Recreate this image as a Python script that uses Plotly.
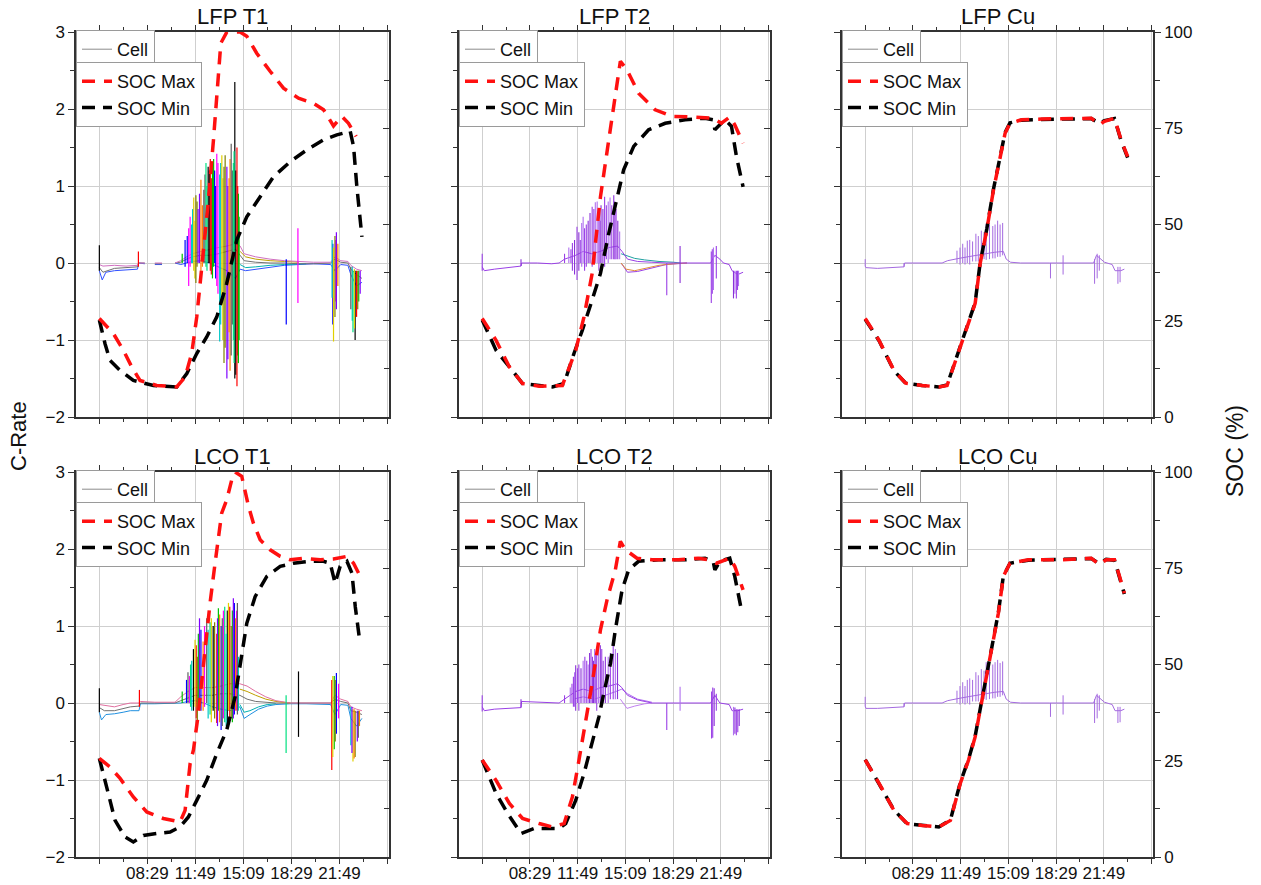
import plotly.graph_objects as go

FONT = "Liberation Sans, Arial, sans-serif"

# ---------------- time axis (hours of day) ----------------
X_TICK_HOURS = [5.15, 8.483, 11.817, 15.15, 18.483, 21.817, 25.15]
X_TICK_TEXT = ["", "08:29", "11:49", "15:09", "18:29", "21:49", ""]
X_MINOR_HOURS = [3.483, 6.817, 10.15, 13.483, 16.817, 20.15, 23.483]

# ---------------- SOC curves (hour, SOC %) ----------------
LFP_T1_SOC_MAX = [(5.15,25.6),(6.12,21.7),(6.82,17.3),(7.40,13.0),(7.97,9.5),(9.13,8.2),(10.52,7.8),(11.10,10.4),(11.56,16.5),(11.91,26.0),(12.26,39.0),(12.72,56.4),(13.07,72.0),(13.30,84.1),(13.58,97.1),(14.0,100),(14.92,100),(15.38,98.9),(16.07,94.5),(17.0,89.8),(17.93,85.4),(18.97,82.8),(20.01,81.5),(20.71,79.8),(21.4,75.6),(21.98,78.1),(22.44,76.3),(22.97,72.9)]
LFP_T1_SOC_MIN = [(5.15,25.2),(5.54,19.1),(5.89,14.7),(6.59,12.1),(7.51,9.5),(8.9,8.2),(10.52,7.8),(11.22,11.3),(11.91,16.5),(12.6,20.8),(13.3,26.0),(13.99,34.7),(14.69,46.0),(15.38,52.0),(16.31,57.2),(17.23,62.4),(18.39,66.3),(19.55,69.4),(20.71,72.0),(21.63,73.3),(22.56,74.2),(22.79,70.3),(23.02,59.8),(23.25,52.0),(23.37,46.8)]

LFP_T2_SOC_MAX = [(5.15,25.6),(6.12,19.9),(7.05,13.0),(7.97,8.7),(9.13,8.0),(10.75,8.2),(11.68,17.3),(12.26,26.0),(12.83,37.3),(13.41,57.2),(13.99,72.0),(14.45,83.3),(14.80,92.4),(15.26,90.2),(16.07,84.1),(17.23,79.8),(18.39,78.1),(20.01,77.9),(21.28,77.6),(21.86,76.3),(22.44,77.9),(22.79,75.9),(23.37,71.1)]
LFP_T2_SOC_MIN = [(5.15,25.2),(6.12,17.3),(7.05,13.0),(7.97,8.7),(10.06,7.8),(10.87,8.7),(11.56,16.5),(12.14,22.5),(12.83,30.4),(13.41,37.3),(13.99,47.7),(14.57,57.2),(15.03,64.2),(15.73,70.3),(16.77,74.6),(17.93,76.3),(19.32,77.2),(20.71,77.6),(21.28,77.2),(21.4,74.6),(21.75,75.9),(22.1,77.2),(22.56,75.5),(22.91,67.6),(23.37,59.8)]

LFP_CU_SOC_MAX = [(5.15,25.6),(6.12,19.9),(7.16,12.1),(7.97,8.8),(9.13,8.2),(10.29,7.8),(10.87,8.2),(11.56,15.6),(12.14,22.5),(12.83,29.5),(13.18,39.9),(13.64,48.6),(14.11,59.0),(14.57,67.6),(14.92,73.7),(15.26,76.3),(16.07,77.2),(17.46,77.4),(19.32,77.4),(20.94,77.6),(21.51,75.9),(21.86,76.8),(22.56,77.6),(23.02,72.0),(23.48,67.6)]
LFP_CU_SOC_MIN = [(5.15,25.4),(6.12,19.8),(7.16,12.0),(7.97,8.8),(9.13,8.2),(10.29,7.8),(10.87,8.3),(11.56,15.8),(12.14,22.4),(12.83,29.7),(13.18,40.1),(13.64,48.8),(14.11,59.2),(14.57,67.8),(14.92,73.9),(15.26,76.4),(16.07,77.1),(17.46,77.3),(19.32,77.4),(20.94,77.5),(21.51,76.3),(21.86,77.0),(22.56,77.5),(23.02,71.8),(23.48,67.4)]

LCO_T1_SOC_MAX = [(5.15,25.6),(5.89,23.4),(6.59,20.4),(7.51,15.6),(8.44,11.7),(9.59,10.0),(10.75,9.1),(11.1,12.1),(11.45,24.3),(11.68,27.8),(12.02,37.3),(12.37,50.3),(12.83,65.9),(13.18,76.3),(13.41,83.3),(13.64,89.3),(13.99,92.8),(14.34,98.0),(14.57,100),(15.03,98.9),(15.5,91.1),(15.84,86.7),(16.31,82.4),(17.0,79.8),(17.7,78.1),(18.39,77.2),(19.32,77.6),(20.48,77.2),(21.4,77.4),(22.33,78.1),(22.79,76.3),(23.37,72.0)]
LCO_T1_SOC_MIN = [(5.15,25.6),(5.43,21.7),(5.77,16.5),(6.24,9.5),(6.93,5.2),(7.51,3.9),(8.21,5.6),(9.13,6.1),(10.06,6.5),(10.75,7.8),(11.33,10.4),(11.91,14.7),(12.6,19.9),(13.3,26.9),(13.99,33.0),(14.57,41.6),(14.92,50.3),(15.38,60.7),(15.96,67.6),(16.77,72.9),(17.7,75.5),(18.62,76.3),(19.78,76.8),(20.71,76.8),(21.17,76.3),(21.51,71.1),(21.86,75.5),(22.33,76.8),(22.68,73.7),(22.91,65.0),(23.21,56.4)]

LCO_T2_SOC_MAX = [(5.15,25.2),(6.12,19.9),(7.05,13.9),(7.97,10.0),(9.13,8.7),(10.06,7.8),(10.87,8.7),(11.45,15.6),(11.91,25.2),(12.37,34.7),(12.83,45.1),(13.41,59.0),(13.87,66.8),(14.45,74.6),(14.80,82.0),(15.15,79.8),(15.96,77.6),(17.0,77.2),(18.85,77.2),(20.24,77.6),(20.94,77.2),(21.51,76.3),(22.44,77.6),(22.79,75.5),(23.37,69.4)]
LCO_T2_SOC_MIN = [(5.15,25.2),(6.12,16.5),(6.93,11.3),(7.86,6.1),(8.78,7.4),(9.59,7.4),(10.52,7.4),(10.98,8.7),(11.68,14.7),(12.26,21.7),(12.83,29.5),(13.3,36.4),(13.64,42.5),(14.11,50.3),(14.45,59.0),(14.92,69.4),(15.38,74.6),(16.07,76.8),(17.46,77.2),(19.32,77.2),(20.71,77.6),(21.28,76.8),(21.4,74.6),(21.75,76.8),(22.44,77.6),(22.79,72.9),(23.25,64.2)]

LCO_CU_SOC_MAX = [(5.15,25.2),(6.12,19.1),(7.16,12.1),(8.09,8.7),(9.13,8.2),(10.29,7.8),(11.1,9.5),(11.79,19.1),(12.37,25.2),(12.83,31.2),(13.18,38.2),(13.53,45.1),(13.99,53.8),(14.45,63.3),(14.8,72.9),(15.26,76.3),(16.54,77.2),(18.85,77.2),(20.94,77.6),(21.51,75.9),(21.98,77.2),(22.56,77.2),(22.91,72.9),(23.25,68.5)]
LCO_CU_SOC_MIN = [(5.15,25.3),(6.12,19.0),(7.16,12.2),(8.09,8.6),(9.13,8.2),(10.29,7.8),(11.1,9.6),(11.79,19.3),(12.37,25.4),(12.83,31.4),(13.18,38.4),(13.53,45.3),(13.99,54.0),(14.45,63.5),(14.8,73.0),(15.26,76.3),(16.54,77.1),(18.85,77.2),(20.94,77.5),(21.51,76.2),(21.98,77.3),(22.56,77.1),(22.91,72.7),(23.25,68.3)]

# ---------------- cell C-rate traces (hour, C-rate) ----------------
LFP_T1_CELL_HI = [(5.15,-0.02),(5.4,-0.04),(6.2,-0.03),(7.0,-0.04),(7.8,-0.03),(7.88,0.0),(8.3,0.0),(8.31,None),(9.0,0.0),(9.5,0.0),(9.51,None),(10.4,0.0),(10.8,0.03),(11.2,0.08),(11.6,0.12),(12.2,0.15),(12.8,0.18),(13.4,0.2),(14.0,0.22),(14.6,0.25),(14.92,0.22),(15.2,0.12),(16.0,0.08),(17.0,0.05),(18.0,0.03),(19.0,0.02),(20.0,0.01),(21.2,0.01),(21.5,0.08),(21.9,0.03),(22.4,0.02),(22.6,-0.03),(23.0,-0.08),(23.37,-0.1)]
LFP_T1_CELL_MID = [(5.15,-0.06),(5.4,-0.12),(6.2,-0.07),(7.0,-0.06),(7.8,-0.05),(7.88,0.0),(8.3,0.0),(8.31,None),(9.0,-0.01),(9.5,-0.01),(9.51,None),(10.4,0.0),(10.8,0.01),(11.2,0.05),(11.6,0.08),(12.2,0.1),(12.8,0.1),(13.4,0.12),(14.0,0.15),(14.6,0.18),(14.92,0.1),(15.2,0.03),(16.0,0.01),(17.0,0.0),(18.0,0.0),(19.0,-0.01),(20.0,-0.01),(21.2,0.0),(21.5,0.05),(21.9,0.01),(22.4,0.0),(22.6,-0.08),(23.0,-0.15),(23.37,-0.2)]
LFP_T1_CELL_LO = [(5.15,-0.1),(5.35,-0.22),(5.6,-0.12),(6.2,-0.1),(7.0,-0.09),(7.8,-0.08),(7.88,0.0),(8.3,-0.01),(8.31,None),(9.0,-0.02),(9.5,-0.02),(9.51,None),(10.4,0.0),(10.8,-0.02),(11.2,0.0),(11.6,0.02),(12.2,0.03),(12.8,0.0),(13.4,-0.05),(14.0,-0.1),(14.6,-0.2),(14.92,-0.08),(15.3,-0.1),(16.0,-0.08),(17.0,-0.05),(18.0,-0.03),(19.0,-0.02),(20.0,-0.01),(21.2,-0.02),(21.5,-0.1),(21.9,-0.02),(22.4,-0.03),(22.6,-0.15),(23.0,-0.3),(23.37,-0.25)]
LFP_T1_CELL_HI2 = [(14.92,0.15),(15.3,0.08),(16.0,0.05),(17.0,0.03),(18.0,0.02),(19.0,0.01)]
LFP_T1_CELL_LO2 = [(14.92,-0.02),(15.3,-0.06),(16.0,-0.05),(17.0,-0.03),(18.0,-0.02),(19.5,-0.01)]
LFP_T1_SPIKES = [(5.15,0.23,-0.1),(7.86,0.15,-0.05),(10.9,0.12,0.0),(11.1,0.3,-0.05),(11.35,0.45,-0.3),(11.55,0.5,0.0),(11.7,0.85,-0.1),(11.85,0.88,-0.26),(12.0,0.7,0.0),(12.2,1.08,-0.1),(12.4,0.95,0.0),(12.55,1.3,-0.05),(12.7,1.25,0.0),(12.85,1.35,-0.1),(13.0,1.3,-0.2),(13.15,1.2,0.0),(13.3,1.42,-0.3),(13.5,1.15,-1.02),(13.65,1.4,-0.5),(13.8,1.25,-1.3),(14.0,1.25,-1.5),(14.15,1.1,-0.9),(14.3,1.55,-1.2),(14.45,1.3,-1.0),(14.55,2.35,-1.5),(14.7,1.5,-1.6),(14.8,0.9,-1.3),(18.12,0.05,-0.8),(18.93,0.45,-0.52),(21.3,0.3,-0.45),(21.4,0.2,-1.02),(21.5,0.35,-0.7),(21.6,0.4,-0.6),(21.7,0.25,-0.3),(22.6,-0.05,-0.6),(22.75,-0.1,-0.9),(22.9,-0.1,-1.0),(23.0,-0.1,-0.7),(23.15,-0.1,-0.5),
                 (11.25,0.35,0.0),(11.45,0.6,-0.05),(11.62,0.7,0.0),(11.78,0.55,-0.2),(11.93,0.8,-0.05),(12.1,0.9,0.0),(12.3,0.75,-0.05),(12.48,1.15,0.0),(12.62,1.0,-0.1),(12.78,1.2,0.0),(12.92,1.1,-0.15),(13.08,1.35,-0.05),(13.22,1.0,-0.2),(13.38,1.3,-0.4),(13.57,1.3,-0.8),(13.72,1.1,-1.0),(13.88,1.4,-1.1),(14.07,1.0,-1.25),(14.22,1.35,-1.4),(14.38,1.2,-0.8),(14.5,1.45,-1.3),(14.62,1.2,-1.45),(14.75,1.0,-1.2),(14.85,0.6,-1.0),(21.35,0.25,-0.8),(21.55,0.3,-0.5),(22.7,-0.05,-0.75),(22.85,-0.08,-0.85),(23.08,-0.1,-0.6),(23.25,-0.1,-0.4)]

LCO_T1_CELL_HI = [(5.15,-0.02),(5.5,-0.03),(6.2,-0.05),(6.8,-0.02),(7.3,0.0),(7.9,0.0),(8.0,0.02),(9.0,0.01),(10.4,0.01),(10.8,0.08),(11.3,0.15),(11.8,0.2),(12.4,0.2),(13.0,0.2),(13.6,0.22),(14.2,0.25),(14.9,0.25),(15.4,0.22),(16.0,0.15),(16.7,0.08),(17.4,0.03),(18.4,0.0),(19.5,0.0),(21.2,0.0),(21.5,0.1),(21.9,0.05),(22.4,0.02),(22.6,-0.05),(23.0,-0.08),(23.37,-0.1)]
LCO_T1_CELL_MID = [(5.15,-0.06),(5.5,-0.1),(6.2,-0.1),(6.8,-0.07),(7.3,-0.05),(7.9,-0.04),(8.0,0.0),(9.0,0.0),(10.4,0.0),(10.8,0.03),(11.3,0.07),(11.8,0.1),(12.4,0.1),(13.0,0.1),(13.6,0.12),(14.2,0.12),(14.9,0.1),(15.4,0.05),(16.0,0.02),(16.7,0.01),(17.4,0.0),(18.4,0.0),(19.5,0.0),(21.2,0.0),(21.5,0.05),(21.9,0.02),(22.4,0.0),(22.6,-0.1),(23.0,-0.12),(23.37,-0.15)]
LCO_T1_CELL_LO = [(5.15,-0.12),(5.3,-0.22),(5.6,-0.15),(6.2,-0.14),(6.8,-0.12),(7.3,-0.1),(7.9,-0.1),(8.0,-0.01),(9.0,-0.01),(10.4,0.0),(10.8,0.0),(11.3,0.02),(11.8,0.03),(12.4,0.0),(13.0,-0.05),(13.6,-0.08),(14.2,-0.1),(14.9,-0.05),(15.2,-0.2),(15.6,-0.15),(16.2,-0.08),(16.8,-0.04),(17.4,-0.02),(18.4,-0.01),(19.5,-0.01),(21.2,-0.02),(21.5,-0.15),(21.9,-0.02),(22.4,-0.03),(22.6,-0.2),(23.0,-0.3),(23.37,-0.2)]
LCO_T1_CELL_HI2 = [(14.9,0.18),(15.4,0.15),(16.0,0.1),(16.7,0.05),(17.4,0.02),(18.4,0.0)]
LCO_T1_CELL_LO2 = [(14.9,-0.02),(15.2,-0.12),(15.6,-0.1),(16.2,-0.05),(16.8,-0.02),(17.4,-0.01)]
LCO_T1_SPIKES = [(5.15,0.19,-0.12),(7.93,0.17,-0.05),(10.9,0.15,0.0),(11.2,0.3,0.0),(11.4,0.35,0.0),(11.56,0.55,-0.1),(11.79,0.82,-0.05),(11.95,0.6,-0.3),(12.1,1.1,0.0),(12.35,0.8,-0.1),(12.6,1.1,0.0),(12.83,1.05,-0.15),(13.05,1.0,-0.1),(13.3,0.9,-0.26),(13.41,1.23,-0.1),(13.6,1.0,-0.35),(13.76,1.2,-0.2),(13.95,0.9,-0.3),(14.11,1.3,-0.1),(14.3,1.0,-0.2),(14.45,1.36,-0.2),(14.6,1.1,-0.1),(14.73,1.3,-0.15),(18.11,0.1,-0.65),(18.97,0.41,-0.44),(21.28,0.3,-0.87),(21.45,0.35,-0.6),(21.6,0.39,-0.4),(21.75,0.25,-0.2),(22.6,-0.05,-0.55),(22.75,-0.08,-0.76),(22.9,-0.1,-0.7),(23.05,-0.1,-0.5),(23.2,-0.1,-0.3),
                 (11.3,0.4,0.0),(11.48,0.5,-0.05),(11.68,0.7,-0.1),(11.87,0.75,-0.2),(12.02,0.9,0.0),(12.2,0.95,-0.1),(12.45,1.0,-0.05),(12.7,0.95,-0.2),(12.92,1.1,-0.25),(13.15,1.05,-0.2),(13.35,1.1,-0.3),(13.5,1.15,-0.25),(13.68,1.1,-0.3),(13.85,1.25,-0.25),(14.03,1.2,-0.3),(14.2,1.25,-0.2),(14.38,1.2,-0.25),(14.52,1.3,-0.15),(14.67,1.2,-0.1),(14.8,0.6,-0.1),(21.35,0.35,-0.7),(21.52,0.3,-0.5),(22.68,-0.05,-0.65),(22.83,-0.08,-0.72),(23.12,-0.1,-0.45)]

LFP_T2_CELL_MAIN = [(5.15,-0.05),(5.3,-0.1),(6.0,-0.08),(7.0,-0.06),(7.86,-0.04),(7.9,0.0),(9.0,0.0),(10.0,-0.01),(10.52,0.0),(10.9,0.05),(11.3,0.08),(11.68,0.1),(12.2,0.15),(12.8,0.12),(13.4,0.15),(14.0,0.2),(14.6,0.22),(14.92,0.15),(15.3,0.05),(16.0,0.02),(17.0,0.01),(18.0,0.0),(19.0,0.0),(21.1,0.0),(21.4,0.1),(21.75,0.05),(22.0,0.0),(22.4,-0.02),(22.6,-0.1),(23.0,-0.15),(23.37,-0.12)]
LFP_T2_CELL_HI = [(14.85,0.12),(15.2,0.1),(15.8,0.06),(16.5,0.04),(17.5,0.02),(18.5,0.01),(19.0,0.0)]
LFP_T2_CELL_LO = [(14.85,0.0),(15.2,-0.08),(15.8,-0.1),(16.5,-0.07),(17.5,-0.03),(18.5,-0.01),(19.45,0.0)]
LFP_T2_CELL_LO2 = [(14.85,0.0),(15.3,-0.12),(16.0,-0.11),(17.0,-0.06),(18.0,-0.02),(19.45,0.0)]
LFP_T2_SPIKES = [(5.15,0.12,-0.1),(7.86,0.05,-0.04),(10.9,0.12,0.0),(11.2,0.2,0.0),(11.45,0.26,-0.1),(11.6,0.3,-0.15),(11.77,0.47,-0.22),(12.1,0.52,-0.05),(12.3,0.45,-0.1),(12.55,0.55,0.0),(12.83,0.73,-0.05),(13.05,0.79,0.0),(13.3,0.6,-0.1),(13.45,0.75,0.0),(13.7,0.86,-0.05),(13.95,0.8,0.0),(14.2,0.75,0.05),(14.34,0.88,0.05),(14.5,0.7,0.05),(14.75,0.41,0.05),(18.04,0.0,-0.42),(18.97,0.22,-0.26),(21.15,0.15,-0.52),(21.3,0.2,-0.35),(21.5,0.22,-0.2),(22.7,-0.1,-0.46),(22.9,-0.1,-0.46),(23.05,-0.1,-0.3),
                 (11.35,0.18,0.0),(11.9,0.4,-0.1),(12.0,0.3,0.0),(12.2,0.6,0.0),(12.42,0.5,-0.05),(12.68,0.65,0.0),(12.95,0.7,0.0),(13.18,0.8,0.0),(13.38,0.55,0.0),(13.58,0.7,0.0),(13.82,0.75,0.05),(14.08,0.85,0.05),(14.42,0.8,0.05),(14.62,0.55,0.05),(21.22,0.18,-0.4),(22.8,-0.1,-0.4),(22.98,-0.1,-0.35)]

LCO_T2_CELL_MAIN = [(5.15,-0.05),(5.3,-0.1),(6.0,-0.08),(7.0,-0.07),(7.86,-0.06),(7.9,0.02),(9.0,0.01),(10.52,0.0),(10.9,0.05),(11.3,0.1),(11.68,0.15),(12.2,0.18),(12.8,0.15),(13.4,0.2),(14.0,0.22),(14.6,0.25),(14.9,0.2),(15.3,0.1),(16.0,0.04),(17.0,0.0),(19.0,0.0),(21.1,0.0),(21.4,0.1),(21.75,0.0),(22.4,-0.02),(22.6,-0.1),(23.0,-0.1),(23.37,-0.08)]
LCO_T2_CELL_HI = [(11.5,0.05),(12.2,0.08),(13.0,0.05),(13.8,0.1),(14.5,0.15),(14.9,0.18),(15.3,0.12),(16.0,0.05),(17.0,0.01)]
LCO_T2_CELL_LO = [(14.8,0.05),(15.26,-0.07),(15.8,-0.04),(16.5,-0.01),(17.0,0.0)]
LCO_T2_SPIKES = [(5.15,0.1,-0.11),(7.86,0.05,-0.06),(10.9,0.1,0.0),(11.3,0.2,0.0),(11.52,0.34,-0.05),(11.68,0.49,-0.1),(11.9,0.5,-0.1),(12.2,0.55,0.0),(12.45,0.55,0.0),(12.65,0.65,0.0),(12.85,0.6,0.0),(13.0,0.7,0.0),(13.15,0.73,-0.1),(13.4,0.75,0.0),(13.6,0.55,0.0),(13.95,0.6,0.0),(14.3,0.8,0.05),(14.6,0.65,0.05),(18.04,0.0,-0.35),(18.97,0.21,-0.1),(21.17,0.15,-0.46),(21.35,0.19,-0.3),(21.5,0.12,-0.1),(22.7,-0.05,-0.42),(22.9,-0.08,-0.42),(23.1,-0.08,-0.3),
                 (11.42,0.25,0.0),(11.6,0.4,-0.05),(11.8,0.45,0.0),(12.05,0.45,0.0),(12.32,0.6,0.0),(12.55,0.5,0.0),(12.75,0.7,0.0),(12.92,0.55,0.0),(13.08,0.65,0.0),(13.28,0.75,0.0),(13.5,0.7,0.0),(13.75,0.6,0.0),(14.1,0.65,0.05),(14.45,0.7,0.05),(21.25,0.2,-0.45),(22.8,-0.06,-0.4),(23.0,-0.08,-0.38)]

LFP_CU_CELL_MAIN = [(5.15,-0.04),(5.2,-0.06),(6.0,-0.07),(7.0,-0.06),(7.86,-0.05),(7.9,0.0),(9.0,0.0),(10.52,0.0),(10.9,0.03),(11.3,0.05),(11.7,0.06),(12.3,0.08),(12.9,0.1),(13.5,0.12),(14.2,0.14),(14.8,0.15),(15.0,0.05),(15.3,0.01),(16.0,0.0),(18.0,0.0),(19.5,0.0),(21.1,0.0),(21.3,0.1),(21.6,0.05),(21.86,0.01),(22.4,-0.02),(22.6,-0.1),(23.0,-0.1),(23.25,-0.08)]
LFP_CU_SPIKES = [(5.15,0.05,-0.04),(7.86,0.0,-0.05),(11.56,0.16,0.0),(11.77,0.2,-0.02),(11.96,0.25,0.0),(12.12,0.2,-0.02),(12.28,0.29,0.0),(12.45,0.3,-0.02),(12.65,0.28,0.02),(12.88,0.38,0.02),(13.05,0.35,0.02),(13.26,0.42,0.03),(13.45,0.4,0.05),(13.6,0.51,0.04),(13.83,0.5,0.05),(14.06,0.48,0.06),(14.22,0.5,0.06),(14.4,0.55,0.08),(14.57,0.5,0.08),(14.75,0.52,0.1),(18.09,0.0,-0.2),(18.97,0.1,-0.15),(21.17,0.05,-0.27),(21.35,0.12,-0.2),(21.5,0.1,-0.1),(22.8,-0.05,-0.27),(22.95,-0.05,-0.25)]

LCO_CU_CELL_MAIN = [(5.15,-0.04),(5.2,-0.07),(6.0,-0.07),(7.0,-0.06),(7.86,-0.05),(7.9,0.0),(9.0,0.0),(10.52,0.0),(10.9,0.03),(11.3,0.05),(11.7,0.06),(12.3,0.08),(12.9,0.1),(13.5,0.12),(14.2,0.14),(14.8,0.15),(15.0,0.05),(15.3,0.01),(16.0,0.0),(18.0,0.0),(19.5,0.0),(21.1,0.0),(21.3,0.1),(21.6,0.05),(21.86,0.01),(22.4,-0.02),(22.6,-0.1),(23.0,-0.1),(23.25,-0.08)]
LCO_CU_SPIKES = [(5.15,0.08,-0.04),(7.86,0.0,-0.05),(11.56,0.16,0.0),(11.77,0.22,-0.02),(11.96,0.27,0.0),(12.12,0.22,-0.02),(12.28,0.3,0.0),(12.45,0.32,-0.02),(12.65,0.3,0.02),(12.88,0.4,0.02),(13.05,0.36,0.02),(13.26,0.44,0.03),(13.45,0.42,0.05),(13.6,0.53,0.04),(13.83,0.52,0.05),(14.06,0.5,0.06),(14.22,0.53,0.06),(14.4,0.56,0.08),(14.57,0.52,0.08),(14.75,0.54,0.1),(18.09,0.0,-0.18),(18.97,0.1,-0.15),(21.17,0.05,-0.26),(21.35,0.12,-0.2),(21.5,0.1,-0.1),(22.8,-0.05,-0.26),(22.95,-0.05,-0.25)]

# ---------------- styles ----------------
RAINBOW = ['#000000', '#ff0000', '#00c000', '#0000ff', '#ff00ff', '#00c8c8',
           '#e0d000', '#808000', '#8000ff', '#ff8000', '#606060', '#00e080']
PURPLE = '#9a40e6'
PURPLE_CU = '#a46ae0'

PANELS = [
    dict(title="LFP T1", smax=LFP_T1_SOC_MAX, smin=LFP_T1_SOC_MIN,
         lines=[(LFP_T1_CELL_LO, '#3050ff'), (LFP_T1_CELL_LO2, '#00b0b0'), (LFP_T1_CELL_MID, '#707070'),
                (LFP_T1_CELL_HI2, '#c0a000'), (LFP_T1_CELL_HI, '#d070c0')],
         spikes=LFP_T1_SPIKES, spal=RAINBOW, sw=1.2),
    dict(title="LFP T2", smax=LFP_T2_SOC_MAX, smin=LFP_T2_SOC_MIN,
         lines=[(LFP_T2_CELL_LO2, PURPLE), (LFP_T2_CELL_LO, '#e0903a'), (LFP_T2_CELL_HI, '#20a0a0'), (LFP_T2_CELL_MAIN, PURPLE)],
         spikes=LFP_T2_SPIKES, spal=[PURPLE, '#8a30d8', PURPLE, '#b070f0'], sw=1.1),
    dict(title="LFP Cu", smax=LFP_CU_SOC_MAX, smin=LFP_CU_SOC_MIN,
         lines=[(LFP_CU_CELL_MAIN, PURPLE_CU)],
         spikes=LFP_CU_SPIKES, spal=[PURPLE_CU], sw=1),
    dict(title="LCO T1", smax=LCO_T1_SOC_MAX, smin=LCO_T1_SOC_MIN,
         lines=[(LCO_T1_CELL_LO, '#2090e0'), (LCO_T1_CELL_LO2, '#00b0b0'), (LCO_T1_CELL_MID, '#707070'),
                (LCO_T1_CELL_HI2, '#c0a000'), (LCO_T1_CELL_HI, '#e070a0')],
         spikes=LCO_T1_SPIKES, spal=RAINBOW, sw=1.2),
    dict(title="LCO T2", smax=LCO_T2_SOC_MAX, smin=LCO_T2_SOC_MIN,
         lines=[(LCO_T2_CELL_LO, '#c080f0'), (LCO_T2_CELL_HI, '#b070f0'), (LCO_T2_CELL_MAIN, PURPLE)],
         spikes=LCO_T2_SPIKES, spal=[PURPLE, '#8a30d8', PURPLE, '#b070f0'], sw=1.1),
    dict(title="LCO Cu", smax=LCO_CU_SOC_MAX, smin=LCO_CU_SOC_MIN,
         lines=[(LCO_CU_CELL_MAIN, PURPLE_CU)],
         spikes=LCO_CU_SPIKES, spal=[PURPLE_CU], sw=1),
]

W, H = 1261, 885
COL_PX = [(76, 389), (459, 770), (842, 1153)]
ROW_PX = [(32, 417), (472, 857)]
AXC = '#333333'
GRID = '#cfcfcf'
TICKFONT = dict(size=17, family=FONT, color='#111111')

fig = go.Figure()
layout = dict(template='none', width=W, height=H, margin=dict(l=0, r=0, t=0, b=0, pad=0),
              autosize=False, paper_bgcolor='white', plot_bgcolor='white', showlegend=True,
              font=dict(family=FONT, size=17, color='#111111'))
annotations = []

for i, p in enumerate(PANELS):
    r, c = divmod(i, 3)
    n = i + 1
    xs = '' if n == 1 else str(n)
    yc = str(n) if n > 1 else ''
    ys = str(n + 6)
    xref, ycref, ysref = 'x' + xs, 'y' + yc, 'y' + ys
    x0, x1 = COL_PX[c]
    t0, t1 = ROW_PX[r]
    xdom = [x0 / W, x1 / W]
    ydom = [1 - t1 / H, 1 - t0 / H]
    leg_cell = 'legend' if i == 0 else 'legend%d' % (2 * i + 1)
    leg_soc = 'legend%d' % (2 * i + 2)

    for pts, col in p['lines']:
        fig.add_trace(go.Scatter(x=[q[0] for q in pts], y=[q[1] for q in pts], mode='lines',
                                 line=dict(color=col, width=1), xaxis=xref, yaxis=ycref,
                                 showlegend=False, hoverinfo='skip', connectgaps=False))
    pal = p['spal']
    groups = {}
    for k, (t, top, bot) in enumerate(p['spikes']):
        col = pal[k % len(pal)]
        gx, gy = groups.setdefault(col, ([], []))
        gx += [t, t, None]
        gy += [bot, top, None]
    for col, (gx, gy) in groups.items():
        fig.add_trace(go.Scatter(x=gx, y=gy, mode='lines', line=dict(color=col, width=p['sw']),
                                 xaxis=xref, yaxis=ycref, showlegend=False, hoverinfo='skip'))
    fig.add_trace(go.Scatter(x=[None], y=[None], mode='lines', name='Cell',
                             line=dict(color='#8c8c8c', width=1), xaxis=xref, yaxis=ycref,
                             legend=leg_cell, showlegend=True))
    fig.add_trace(go.Scatter(x=[q[0] for q in p['smin']], y=[q[1] for q in p['smin']], mode='lines',
                             name='SOC Min', line=dict(color='black', width=3.5, dash='13px,8px'),
                             xaxis=xref, yaxis=ysref, legend=leg_soc, legendrank=2, showlegend=True))
    fig.add_trace(go.Scatter(x=[q[0] for q in p['smax']], y=[q[1] for q in p['smax']], mode='lines',
                             name='SOC Max', line=dict(color='#ff1010', width=3.5, dash='13px,9px'),
                             xaxis=xref, yaxis=ysref, legend=leg_soc, legendrank=1, showlegend=True))

    legfont = dict(family=FONT, size=18, color='#111111')
    layout[leg_cell] = dict(x=xdom[0], xanchor='left', y=1 - (t0 - 2) / H, yanchor='top',
                            bgcolor='white', bordercolor='#9a9a9a', borderwidth=1, font=legfont,
                            tracegroupgap=0)
    layout[leg_soc] = dict(x=xdom[0], xanchor='left', y=1 - (t0 + 30) / H, yanchor='top',
                           bgcolor='white', bordercolor='#9a9a9a', borderwidth=1, font=legfont,
                           tracegroupgap=0)

    layout['xaxis' + xs] = dict(domain=xdom, anchor=ycref, range=[3.53, 25.25], automargin=False,
                                tickmode='array', tickvals=X_TICK_HOURS, ticktext=X_TICK_TEXT,
                                showticklabels=(r == 1), ticks='outside', ticklen=5, tickwidth=1.3,
                                ticklabelstandoff=-5,
                                tickcolor=AXC, showline=True, linecolor=AXC, linewidth=1.5,
                                mirror='ticks', showgrid=True, gridcolor=GRID, gridwidth=1,
                                zeroline=False, tickfont=TICKFONT,
                                minor=dict(tickvals=X_MINOR_HOURS, ticks='outside', ticklen=3,
                                           tickcolor=AXC, showgrid=False))
    layout['yaxis' + yc] = dict(domain=ydom, anchor=xref, range=[-2, 3], dtick=1, tick0=0,
                                automargin=False,
                                showticklabels=(c == 0), ticks='outside', ticklen=6, tickwidth=1.3,
                                tickcolor=AXC, showline=True, linecolor=AXC, linewidth=1.5,
                                mirror=True, showgrid=True, gridcolor=GRID, gridwidth=1,
                                zeroline=False, tickfont=TICKFONT,
                                minor=dict(dtick=0.5, tick0=0, ticks='outside', ticklen=4,
                                           tickcolor=AXC, showgrid=False))
    layout['yaxis' + ys] = dict(overlaying=ycref, anchor=xref, side='right', range=[0, 100],
                                automargin=False,
                                dtick=25, tick0=0, showticklabels=(c == 2),
                                ticks='outside' if c == 2 else 'inside', ticklen=6, tickwidth=1.3,
                                tickcolor=AXC, showline=True, linecolor=AXC, linewidth=1.5,
                                showgrid=False, zeroline=False, tickfont=TICKFONT,
                                minor=dict(dtick=12.5, tick0=0, ticks='outside' if c == 2 else 'inside',
                                           ticklen=5, tickcolor=AXC, showgrid=False))

    annotations.append(dict(text=p['title'], x=(xdom[0] + xdom[1]) / 2, y=1 - (t0 - 16) / H,
                            xref='paper', yref='paper', xanchor='center', yanchor='middle',
                            showarrow=False, font=dict(family=FONT, size=22, color='#111111')))

annotations.append(dict(text='C-Rate', x=18 / W, y=1 - 436 / H, xref='paper', yref='paper',
                        xanchor='center', yanchor='middle', textangle=-90, showarrow=False,
                        font=dict(family=FONT, size=22, color='#111111')))
annotations.append(dict(text='SOC (%)', x=1235 / W, y=1 - 451 / H, xref='paper', yref='paper',
                        xanchor='center', yanchor='middle', textangle=-90, showarrow=False,
                        font=dict(family=FONT, size=23, color='#111111')))
layout['annotations'] = annotations
fig.update_layout(**layout)
fig.write_html("out.html")
